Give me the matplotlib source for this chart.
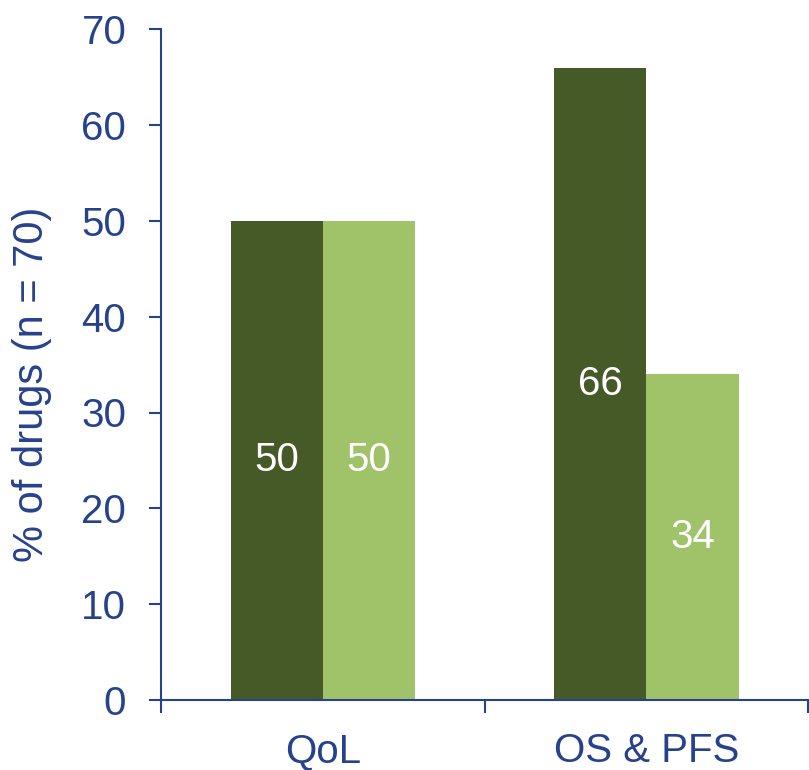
import numpy as np
import matplotlib.pyplot as plt

plt.rcParams['font.family'] = ['Liberation Sans', 'DejaVu Sans']

categories = ["QoL", "OS & PFS"]
dark_values = [50, 66]
light_values = [50, 34]

blue = "#27428C"
dark_green = "#465A27"
light_green = "#A0C36A"

fig = plt.figure(figsize=(8.09, 7.7), dpi=100)
ax = fig.add_axes([0.199, 0.091, 0.80, 0.871])

x = np.arange(len(categories))
w = 0.285
bars_d = ax.bar(x - w / 2, dark_values, w, color=dark_green)
bars_l = ax.bar(x + w / 2, light_values, w, color=light_green)

for bars in (bars_d, bars_l):
    for b in bars:
        h = b.get_height()
        ax.text(b.get_x() + b.get_width() / 2, h / 2, f"{h:g}",
                ha="center", va="center", color="white", fontsize=29)

ax.set_xlim(-0.5, 1.5)
ax.set_ylim(0, 70)
ax.set_yticks(range(0, 71, 10))
ax.set_xticks([-0.5, 0.5, 1.5])
ax.set_xticklabels([])
ax.set_xticks(x, minor=True)
ax.set_xticklabels(categories, minor=True)
ax.tick_params(axis="x", which="minor", length=0, pad=23, labelsize=29, labelcolor=blue)
ax.tick_params(axis="x", which="major", length=9, width=1.5, color=blue)
ax.tick_params(axis="y", length=9, width=1.5, color=blue, labelsize=29, labelcolor=blue, pad=16)

for s in ("top", "right"):
    ax.spines[s].set_visible(False)
for s in ("left", "bottom"):
    ax.spines[s].set_color(blue)
    ax.spines[s].set_linewidth(1.5)

ax.set_ylabel("% of drugs (n = 70)", fontsize=30, color=blue)
ax.yaxis.set_label_coords(-0.168, 0.47)

fig.savefig("out.png", dpi=100)
